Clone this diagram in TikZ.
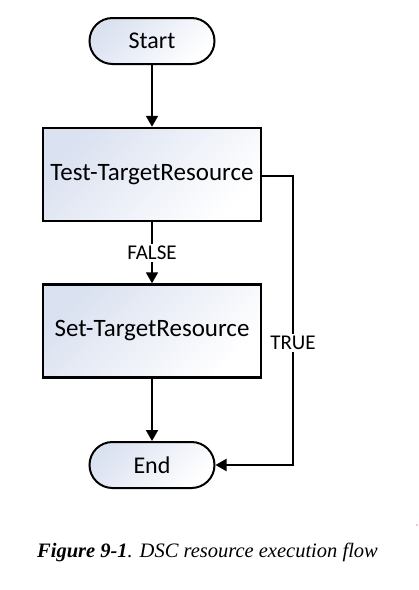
\documentclass[tikz,border=0pt]{standalone}
\usepackage{fontspec}
\setmainfont{Carlito}
\newfontfamily\capfont{Liberation Serif}
\usetikzlibrary{arrows.meta}
\definecolor{boxfill}{HTML}{DAE1F0}
\begin{document}
\begin{tikzpicture}[x=1pt,y=-1pt,
  box/.style={draw, line width=2.5pt, minimum width=218pt, minimum height=93pt, inner sep=0pt,
    font=\fontsize{25}{29}\selectfont, top color=boxfill, bottom color=white, shading angle=45},
  term/.style={draw, line width=2pt, rounded corners=23pt, minimum width=125pt, minimum height=46pt,
    inner sep=0pt, font=\fontsize{24}{28}\selectfont, top color=boxfill, bottom color=white, shading angle=45},
  flow/.style={line width=2pt, -{Triangle[length=11pt,width=12pt]}},
  lbl/.style={font=\fontsize{21}{24}\selectfont, fill=white, inner sep=2pt}
]
\useasboundingbox (0,0) rectangle (419,590);
\node[term] (start) at (152,41) {Start};
\node[box] (test) at (152,174.5) {\raisebox{-3pt}{Test-TargetResource}};
\node[box] (set) at (152,331) {\raisebox{-3pt}{Set-TargetResource}};
\node[term] (end) at (152,465) {End};
\coordinate (rx) at (293,176);
\draw[flow] (start) -- (test);
\draw[flow] (test) -- node[lbl] (false) {FALSE} (set);
\draw[flow] (set) -- (end);
\draw[flow] (test.east |- rx) -- (rx) |- (end.east);
\node[lbl] (true) at (293,343) {TRUE};
\node[anchor=west, inner sep=0pt] (cap) at (37,552)
  {\capfont\fontsize{20.5}{24}\selectfont\textbf{\textit{Figure 9-1}}\textit{. DSC resource execution flow}};
\fill[red] (417,525) circle (0.7pt);
\end{tikzpicture}
\end{document}
